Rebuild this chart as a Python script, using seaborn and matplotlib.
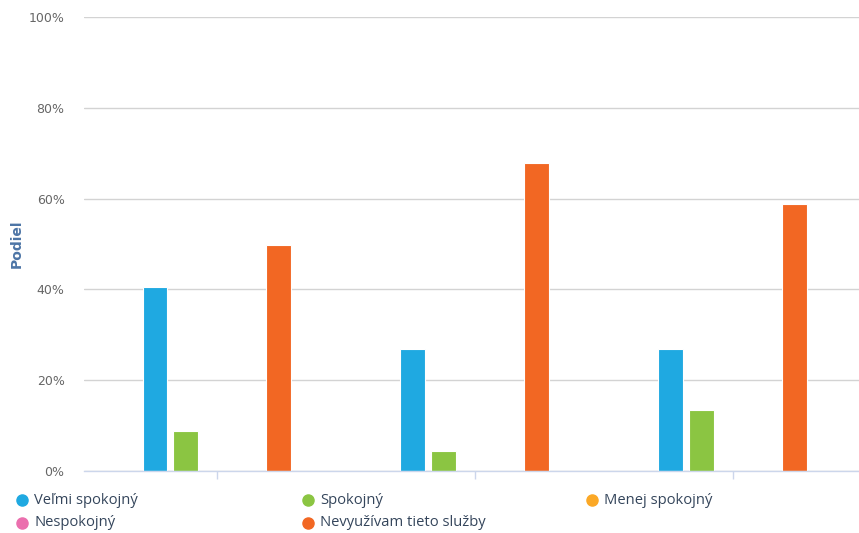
import matplotlib
matplotlib.use("Agg")
import matplotlib.pyplot as plt
from matplotlib.ticker import FuncFormatter
import pandas as pd
import seaborn as sns

# Survey groups (not labelled on the axis)
groups = ["Skupina 1", "Skupina 2", "Skupina 3"]
series = ["Veľmi spokojný", "Spokojný", "Menej spokojný", "Nespokojný",
          "Nevyužívam tieto služby"]
velmi_spokojny = [40.5, 26.9, 26.9]
spokojny = [8.8, 4.3, 13.4]
menej_spokojny = [0.0, 0.0, 0.0]
nespokojny = [0.0, 0.0, 0.0]
nevyuzivam = [49.8, 67.8, 58.8]
y_ticks = [0, 20, 40, 60, 80, 100]

colors = ["#1fa9e1", "#8bc542", "#fba826", "#eb6fae", "#f26723"]

values = [velmi_spokojny, spokojny, menej_spokojny, nespokojny, nevyuzivam]
rows = []
for name, vals in zip(series, values):
    for g, v in zip(groups, vals):
        rows.append({"skupina": g, "hodnotenie": name, "podiel": v})
df = pd.DataFrame(rows)

sns.set_theme(style="white")
plt.rcParams["font.family"] = ["DejaVu Sans"]

W, H = 859, 533
fig = plt.figure(figsize=(W / 100, H / 100), dpi=100)
ax = fig.add_axes([84 / W, 1 - 471 / H, (W - 84) / W, (471 - 17) / H])

sns.barplot(data=df, x="skupina", y="podiel", hue="hodnotenie",
            hue_order=series, palette=colors, order=groups,
            width=0.6, gap=0.2, linewidth=0.8, edgecolor="white",
            saturation=1, ax=ax, legend=False, zorder=3)

ax.set_ylim(0, 100)
ax.set_xlim(-0.515, 2.49)
ax.set_yticks(y_ticks)
ax.yaxis.set_major_formatter(FuncFormatter(lambda v, p: f"{v:.0f}%"))
ax.yaxis.grid(True, color="#d3d3d3", linewidth=1)
ax.set_axisbelow(True)
for s in ["top", "right", "left"]:
    ax.spines[s].set_visible(False)
ax.spines["bottom"].set_color("#ccd6eb")
ax.spines["bottom"].set_linewidth(1)
ax.spines["bottom"].set_zorder(4)

ax.set_xticks(range(len(groups)))
ax.set_xticklabels([])
ax.tick_params(axis="x", bottom=True, length=6, width=1, color="#ccd6eb",
               direction="out")
ax.tick_params(axis="y", left=False, pad=8, labelsize=9,
               labelcolor="#666666")
ax.set_xlabel("")
ax.set_ylabel("")

fig.text(17 / W, 1 - 244 / H, "Podiel", rotation=90, ha="center",
         va="center", fontsize=10, fontweight="bold", color="#4d75a6")

# Legend laid out in three columns below the plot
col_x = [22, 308, 592]
row_y = [500, 523]
for i, (name, c) in enumerate(zip(series, colors)):
    cx = col_x[i % 3]
    cy = row_y[i // 3]
    fig.add_artist(plt.Line2D([cx / W], [1 - cy / H], marker="o",
                              markersize=8, color=c, linestyle="none",
                              transform=fig.transFigure))
    fig.text((cx + 12) / W, 1 - cy / H, name, ha="left", va="center",
             fontsize=10.6, color="#34455b", family=["Open Sans", "DejaVu Sans"])

fig.savefig("out.png", dpi=100)
